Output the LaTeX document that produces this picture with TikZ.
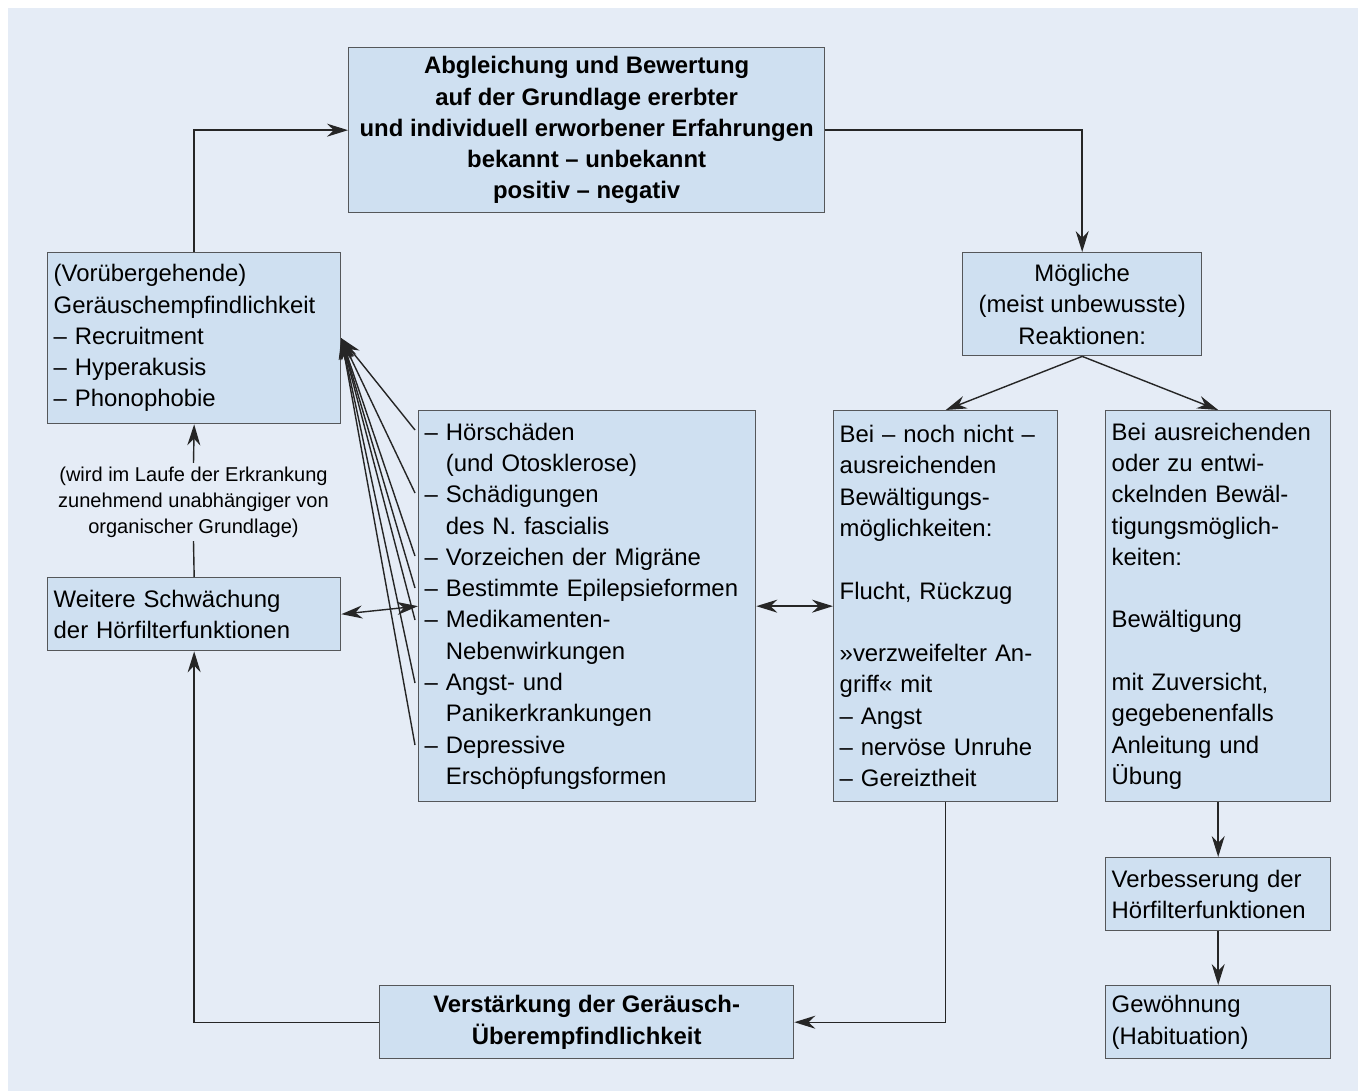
\documentclass[tikz,border=0pt]{standalone}
\usepackage{fontspec}
\setmainfont{Liberation Sans}
\usetikzlibrary{
  arrows.meta,                        % for arrow tips
  backgrounds                         % for background layer
}
\definecolor{grundblau}{HTML}{E5ECF6}
\definecolor{kastenblau}{HTML}{CFE0F1}
\definecolor{rahmengrau}{HTML}{55575A}
\newcommand{\einzug}{\hphantom{–\ }}
\newcommand{\schrift}{\fontsize{13.6pt}{17.8pt}\selectfont}
\newcommand{\kleinschrift}{\fontsize{11.4pt}{14.8pt}\selectfont}
\tikzstyle{kasten} = [rectangle, draw=rahmengrau, fill=kastenblau, line width=0.8pt, inner xsep=0.12cm, inner ysep=0pt, anchor=north west, font=\schrift]
\tikzstyle{textkasten} = [kasten, align=left]
\tikzstyle{mittelkasten} = [kasten, align=center]
\tikzstyle{pfeil} = [draw=black!85, line width=0.8pt, -{Stealth[length=0.42cm,width=0.26cm]}]
\tikzstyle{doppelpfeil} = [pfeil, {Stealth[length=0.42cm,width=0.26cm]}-{Stealth[length=0.42cm,width=0.26cm]}]
\tikzstyle{linie} = [draw=black!85, line width=0.8pt]

\begin{document}
\begin{tikzpicture}[x=0.02cm, y=-0.02cm]
\useasboundingbox (0,0) rectangle (1358,1091);
\fill[grundblau] (8,8) rectangle (1358,1091);

  % upper part
\node[mittelkasten, minimum width=9.52cm, minimum height=3.30cm, font=\schrift\bfseries](abgleich) at (348,47) {Abgleichung und Bewertung\\auf der Grundlage ererbter\\und individuell erworbener Erfahrungen\\bekannt – unbekannt\\positiv – negativ};
\node[mittelkasten, minimum width=4.78cm, minimum height=2.06cm](reaktionen) at (962,252) {Mögliche\\(meist unbewusste)\\Reaktionen:};
\node[textkasten, text width=5.62cm, minimum height=3.42cm](empfindlich) at (47,252) {(Vorübergehende)\\Geräuschempfindlichkeit\\– Recruitment\\– Hyperakusis\\– Phonophobie};

% middle row
\node[textkasten, text width=6.50cm, minimum height=7.82cm](ursachen) at (418,410) {– Hörschäden\\\einzug(und Otosklerose)\\– Schädigungen\\\einzug des N. fascialis\\– Vorzeichen der Migräne\\– Bestimmte Epilepsieformen\\– Medikamenten-\\\einzug Nebenwirkungen\\– Angst- und\\\einzug Panikerkrankungen\\– Depressive\\\einzug Erschöpfungsformen};
\node[textkasten, text width=4.24cm, minimum height=7.82cm](flucht) at (833,410) {Bei – noch nicht –\\ausreichenden\\Bewältigungs-\\möglichkeiten:\\[\baselineskip]Flucht, Rückzug\\[\baselineskip]»verzweifelter An-\\griff« mit\\– Angst\\– nervöse Unruhe\\– Gereiztheit};
\node[textkasten, text width=4.26cm, minimum height=7.82cm](bewaeltigung) at (1105,410) {Bei ausreichenden\\oder zu entwi-\\ckelnden Bewäl-\\tigungsmöglich-\\keiten:\\[\baselineskip]Bewältigung\\[\baselineskip]mit Zuversicht,\\gegebenenfalls\\Anleitung und\\Übung};
\node[textkasten, text width=5.62cm, minimum height=1.46cm](schwaechung) at (47,577) {Weitere Schwächung\\der Hörfilterfunktionen};
\node[align=center, inner sep=2pt, font=\kleinschrift](hinweis) at (193.5,502) {(wird im Laufe der Erkrankung\\zunehmend unabhängiger von\\organischer Grundlage)};

% lower part
\node[textkasten, text width=4.26cm, minimum height=1.46cm](verbesserung) at (1105,857) {Verbesserung der\\Hörfilterfunktionen};
\node[textkasten, text width=4.26cm, minimum height=1.46cm](gewoehnung) at (1105,985) {Gewöhnung\\(Habituation)};
\node[mittelkasten, minimum width=8.28cm, minimum height=1.46cm, font=\schrift\bfseries](verstaerkung) at (379,985) {Verstärkung der Geräusch-\\Überempfindlichkeit};

% connectors
\draw[pfeil] (empfindlich.north) |- (abgleich.west);
\draw[pfeil] (abgleich.east) -| (reaktionen.north);
\draw[pfeil] (reaktionen.south) -- (flucht.north);
\draw[pfeil] (reaktionen.south) -- (bewaeltigung.north);
\draw[pfeil] (bewaeltigung.south) -- (verbesserung.north);
\draw[pfeil] (verbesserung.south) -- (gewoehnung.north);
\draw[pfeil] (flucht.south) |- (verstaerkung.east);
\draw[pfeil] (verstaerkung.west) -| (schwaechung.south);
\draw[linie] (schwaechung.north) -- (hinweis.south);
\draw[pfeil] (hinweis.north) -- (empfindlich.south);
\draw[doppelpfeil] (schwaechung.east) -- (ursachen.west);
\draw[doppelpfeil] (ursachen.east) -- (flucht.west);
% every cause points back to the sensitivity box
\foreach \y [count=\i] in {430,493,556,588,620,683,745}{
  \coordinate (ursache\i) at (415,\y);
  \draw[pfeil] (ursache\i) -- (empfindlich.east);
}
\end{tikzpicture}
\end{document}
